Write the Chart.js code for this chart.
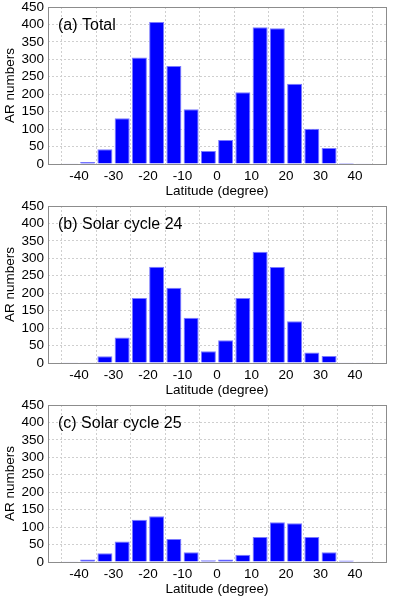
<!DOCTYPE html>
<html>
<head>
<meta charset="utf-8">
<script src="https://cdn.jsdelivr.net/npm/chart.js@4/dist/chart.umd.min.js"></script>
<style>
  html, body { margin: 0; padding: 0; background: #fff; }
  .panel { position: absolute; left: 0; width: 399px; height: 199px; }
</style>
</head>
<body>
<div class="panel" style="top:0"><canvas id="c1"></canvas></div>
<div class="panel" style="top:199px"><canvas id="c2"></canvas></div>
<div class="panel" style="top:398px"><canvas id="c3"></canvas></div>
<script>
// bin centres (5 degree bins from -45 to 45)
const latitudes = [-42.5, -37.5, -32.5, -27.5, -22.5, -17.5, -12.5, -7.5, -2.5, 2.5, 7.5, 12.5, 17.5, 22.5, 27.5, 32.5, 37.5, 42.5]
const total   = [2, 6, 42, 131, 305, 407, 281, 157, 37, 69, 206, 392, 389, 230, 101, 46, 3, 1]
const cycle24 = [1, 2, 19, 73, 186, 276, 216, 130, 34, 65, 186, 319, 275, 120, 30, 20, 1, 1]
const cycle25 = [2, 7, 25, 59, 121, 131, 66, 28, 5, 7, 21, 72, 114, 111, 72, 28, 4, 1]
const xTicks = [-40, -30, -20, -10, 0, 10, 20, 30, 40]
const yTicks = [0, 50, 100, 150, 200, 250, 300, 350, 400, 450]
const titles = ['(a) Total', '(b) Solar cycle 24', '(c) Solar cycle 25']

Chart.defaults.font.family = '"Liberation Sans", Arial, sans-serif'
Chart.defaults.color = '#000'

const frame = {
  id: 'frame',
  afterDraw(chart, args, opts) {
    const { ctx, chartArea: a } = chart
    ctx.save()
    ctx.strokeStyle = '#8c8c8c'
    ctx.lineWidth = 1
    ctx.strokeRect(Math.round(a.left) + 0.5, Math.round(a.top) + 0.5, Math.round(a.right - a.left), Math.round(a.bottom - a.top))
    ctx.fillStyle = '#000'
    ctx.font = '16px "Liberation Sans", Arial, sans-serif'
    ctx.textBaseline = 'middle'
    ctx.fillText(opts.text, a.left + 10, a.top + 19)
    ctx.restore()
  }
}

const grid = { color: '#cfcfcf', drawTicks: false }
const border = { display: false, dash: [2, 2] }

const make = (id, vals, text) => new Chart(document.getElementById(id), {
  type: 'bar',
  data: {
    datasets: [{
      data: latitudes.map((x, i) => ({ x, y: vals[i] })),
      backgroundColor: '#0000ff',
      borderColor: '#7a7aff',
      borderWidth: 1,
      barPercentage: 0.87,
      categoryPercentage: 1
    }]
  },
  options: {
    responsive: true,
    maintainAspectRatio: false,
    animation: false,
    layout: { padding: { top: 7, right: 13, left: 0, bottom: 0 } },
    plugins: { legend: { display: false }, tooltip: { enabled: false }, frame: { text } },
    scales: {
      x: {
        type: 'linear', min: -49, max: 49, offset: false,
        afterBuildTicks: s => { s.ticks = xTicks.map(value => ({ value })) },
        afterFit: s => { s.height = 35 },
        ticks: { font: { size: 13.5 }, padding: 4, maxRotation: 0, autoSkip: false },
        grid, border,
        title: { display: true, text: 'Latitude (degree)', font: { size: 13.5 }, padding: { top: 3, bottom: 0 } }
      },
      y: {
        min: 0, max: 450,
        afterBuildTicks: s => { s.ticks = yTicks.map(value => ({ value })) },
        afterFit: s => { s.width = 48; s.paddingTop = 0 },
        ticks: { font: { size: 13.5 }, padding: 4, autoSkip: false },
        grid, border,
        title: { display: true, text: 'AR numbers', font: { size: 13.5 }, padding: { top: 2, bottom: 0 } }
      }
    }
  },
  plugins: [frame]
})

make('c1', total, titles[0])
make('c2', cycle24, titles[1])
make('c3', cycle25, titles[2])
</script>
</body>
</html>
